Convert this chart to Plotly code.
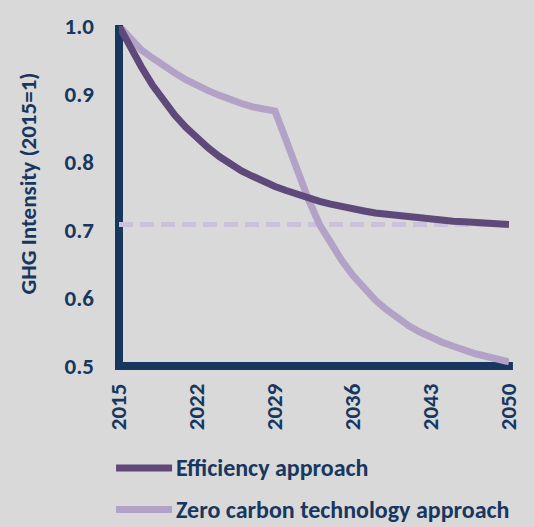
import plotly.graph_objects as go

years = list(range(2015, 2051))
efficiency = [1.000, 0.968, 0.940, 0.913, 0.890, 0.869, 0.851, 0.835, 0.821, 0.808,
              0.797, 0.787, 0.779, 0.771, 0.764, 0.758, 0.752, 0.747, 0.742, 0.738,
              0.734, 0.731, 0.728, 0.725, 0.723, 0.721, 0.719, 0.717, 0.716, 0.714,
              0.713, 0.712, 0.711, 0.710, 0.709, 0.708]
zero_carbon = [1.000, 0.982, 0.965, 0.953, 0.941, 0.931, 0.921, 0.912, 0.905, 0.898,
               0.891, 0.886, 0.881, 0.878, 0.875, 0.832, 0.788, 0.745, 0.708, 0.680,
               0.655, 0.633, 0.613, 0.597, 0.583, 0.570, 0.559, 0.550, 0.542, 0.535,
               0.529, 0.523, 0.518, 0.514, 0.510, 0.506]
target_years = [2015, 2049]
target_values = [0.708, 0.708]

x_ticks = [2015, 2022, 2029, 2036, 2043, 2050]
y_ticks = [0.5, 0.6, 0.7, 0.8, 0.9, 1.0]
y_title = "GHG Intensity (2015=1)"
legend_labels = ["Efficiency approach", "Zero carbon technology approach"]

NAVY = "#17375e"
DARK = "#5f497a"
LIGHT = "#b3a2c7"
PALE = "#ccc1da"
BG = "#d9d9d9"
FONT = "Calibri, Carlito, Lato, sans-serif"
FS = 23

L, R, T, B = 119, 18, 19, 161
W, H = 534, 527
PW, PH = W - L - R, H - T - B


def px_x(p):
    return (p - L) / PW


def px_y(p):
    return 1 - (p - T) / PH


fig = go.Figure()
fig.add_trace(go.Scatter(x=target_years, y=target_values, mode="lines",
                         line=dict(color=PALE, width=5, dash="14px,7px"),
                         showlegend=False, hoverinfo="skip"))
fig.add_trace(go.Scatter(x=years, y=zero_carbon, mode="lines", name=legend_labels[1],
                         line=dict(color=LIGHT, width=7), showlegend=False))
fig.add_trace(go.Scatter(x=years, y=efficiency, mode="lines", name=legend_labels[0],
                         line=dict(color=DARK, width=7), showlegend=False))

# axis lines
fig.add_shape(type="line", xref="paper", yref="paper", layer="below",
              x0=0, x1=0, y0=px_y(370), y1=px_y(18), line=dict(color=NAVY, width=8))
fig.add_shape(type="line", xref="paper", yref="paper", layer="below",
              x0=px_x(115), x1=px_x(520), y0=0, y1=0, line=dict(color=NAVY, width=8))

# y-axis title
fig.add_annotation(text=y_title, xref="paper", yref="paper",
                   x=px_x(26), y=px_y(180), xanchor="center", yanchor="middle",
                   textangle=-90, showarrow=False,
                   font=dict(family=FONT, size=FS, color=NAVY, weight="bold"))

# manual legend
for i, (lab, col) in enumerate(zip(legend_labels, [DARK, LIGHT])):
    yp = px_y(470 + 42.5 * i)
    fig.add_shape(type="line", xref="paper", yref="paper",
                  x0=px_x(116), x1=px_x(173), y0=yp, y1=yp,
                  line=dict(color=col, width=7))
    fig.add_annotation(text=lab, xref="paper", yref="paper",
                       x=px_x(175), y=yp, xanchor="left", yanchor="middle",
                       showarrow=False,
                       font=dict(family=FONT, size=24, color=NAVY, weight="bold"))

fig.update_layout(
    width=W, height=H,
    margin=dict(l=L, r=R, t=T, b=B),
    paper_bgcolor=BG, plot_bgcolor=BG,
    font=dict(family=FONT, color=NAVY, size=FS),
    showlegend=False,
)
fig.update_xaxes(range=[2015, 2050], tickvals=x_ticks, tickangle=-90,
                 showgrid=False, zeroline=False, showline=False, ticks="",
                 ticklabelstandoff=12,
                 tickfont=dict(family=FONT, size=FS, color=NAVY, weight="bold"))
fig.update_yaxes(range=[0.5, 1.0], tickvals=y_ticks, tickformat=".1f",
                 showgrid=False, zeroline=False, showline=False, ticks="",
                 ticklabelstandoff=24,
                 tickfont=dict(family=FONT, size=FS, color=NAVY, weight="bold"))

fig.write_html("out.html", config={"displayModeBar": False},
               post_script="document.body.style.margin='0';"
                           "document.body.style.background='#d9d9d9';")
